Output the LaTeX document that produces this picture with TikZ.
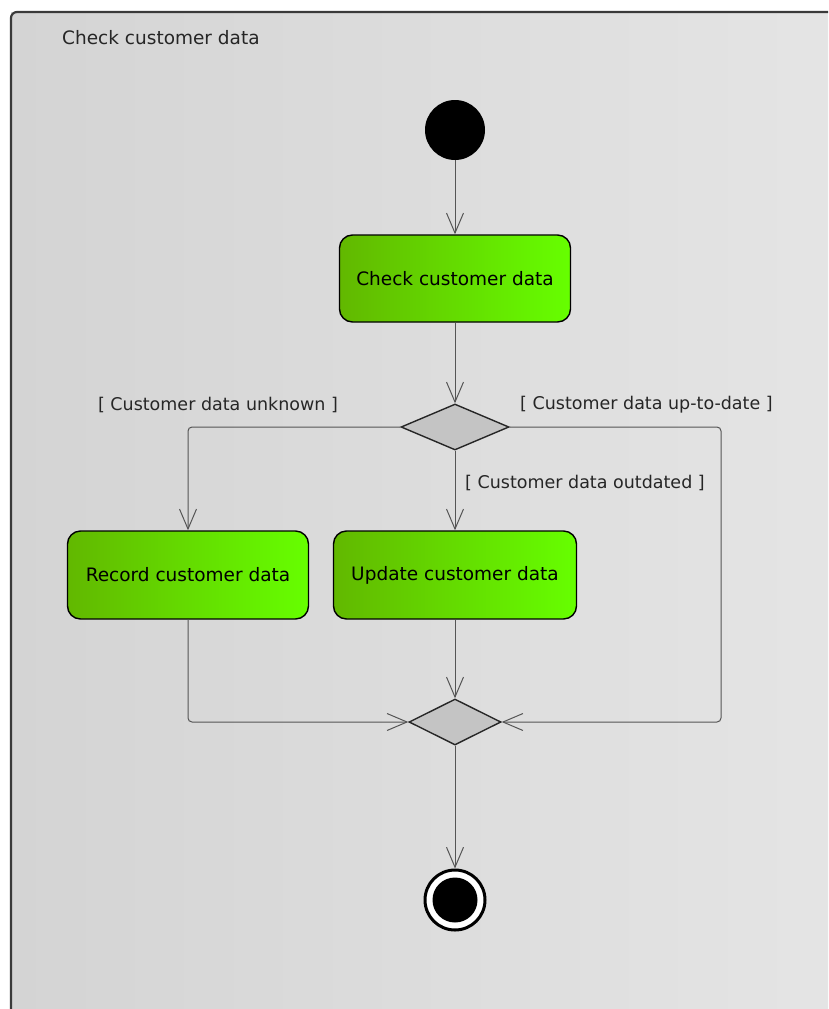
\documentclass[tikz,border=0pt]{standalone}
\usepackage{fontspec}
\setmainfont{DejaVu Sans}
\usetikzlibrary{shapes.geometric,arrows.meta}
\definecolor{framebg1}{HTML}{D4D4D4}
\definecolor{framebg2}{HTML}{E6E6E6}
\definecolor{frameline}{HTML}{3A3A3A}
\definecolor{greenL}{HTML}{62B800}
\definecolor{greenR}{HTML}{66FF00}
\definecolor{decfill}{HTML}{C4C4C4}
\definecolor{flowcol}{HTML}{555555}
\tikzset{
  action/.style={draw=black, line width=1.4pt, rounded corners=13pt,
    left color=greenL, right color=greenR, inner sep=0pt,
    font=\fontsize{18.5}{22}\selectfont, text=black},
  decision/.style={draw=black!85, line width=1.4pt, diamond, fill=decfill,
    inner sep=0pt},
  flow/.style={draw=flowcol, line width=1pt, rounded corners=4pt,
    -{Straight Barb[length=20pt,width=17pt,line width=1pt]}},
  guard/.style={font=\fontsize{17.5}{21}\selectfont, text=black!85, inner sep=0pt},
}
\begin{document}
\begin{tikzpicture}[x=1pt,y=-1pt]
\useasboundingbox (0,0) rectangle (828,1009);
\clip (0,0) rectangle (828,1009);
\fill[white] (0,0) rectangle (828,1009);
% frame
\shade[shading angle=135, left color=framebg1, right color=framebg2]
  (11,1100) -- (11,12) -- (900,12) -- (900,1100) -- cycle;
\draw[frameline, line width=2.2pt, rounded corners=6pt]
  (11,1100) -- (11,12) -- (900,12);
\node[anchor=west, font=\fontsize{18.5}{22}\selectfont, text=black!85, inner sep=0pt]
  (title) at (62,38) {Check customer data};

% nodes
\node[circle, fill=black, minimum size=60pt, inner sep=0pt] (init) at (455,130) {};
\node[action, minimum width=231pt, minimum height=87pt] (check) at (455,278.5) {Check customer data};
\node[decision, minimum width=108pt, minimum height=46pt] (dec) at (455,427) {};
\node[action, minimum width=241pt, minimum height=88pt] (record) at (188,575) {Record customer data};
\node[action, minimum width=243pt, minimum height=88pt] (update) at (455,575) {Update customer data};
\node[decision, minimum width=92pt, minimum height=46pt] (merge) at (455,722) {};
\node[circle, draw=black, line width=3pt, fill=white, minimum size=60pt, inner sep=0pt] (final) at (455,900) {};
\node[circle, fill=black, minimum size=45pt, inner sep=0pt] (finalin) at (455,900) {};
\coordinate (rc) at (721,722);

% flows
\draw[flow] (init.south) -- (check.north);
\draw[flow] (check.south) -- (dec.north);
\draw[flow] (dec.west) -| (record.north);
\draw[flow] (dec.south) -- (update.north);
\draw[flow] (dec.east) -| (rc) -- (merge.east);
\draw[flow] (record.south) |- (merge.west);
\draw[flow] (update.south) -- (merge.north);
\draw[flow] (merge.south) -- (final.north);

% guards
\node[guard] (g1) at (218,405) {[ Customer data unknown ]};
\node[guard, anchor=west] (g2) at (520,405) {[ Customer data up-to-date ]};
\node[guard, anchor=west] (g3) at (465,483) {[ Customer data outdated ]};
\end{tikzpicture}
\end{document}
